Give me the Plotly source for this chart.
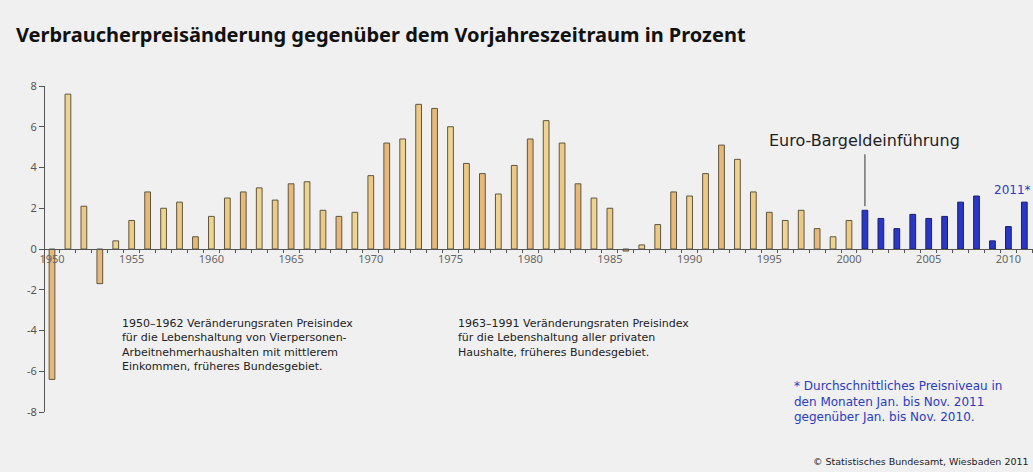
import plotly.graph_objects as go

years_west = list(range(1950, 2001))
values_west = [-6.4, 7.6, 2.1, -1.7, 0.4, 1.4, 2.8, 2.0, 2.3, 0.6,
               1.6, 2.5, 2.8, 3.0, 2.4, 3.2, 3.3, 1.9, 1.6, 1.8,
               3.6, 5.2, 5.4, 7.1, 6.9, 6.0, 4.2, 3.7, 2.7, 4.1,
               5.4, 6.3, 5.2, 3.2, 2.5, 2.0, -0.1, 0.2, 1.2, 2.8,
               2.6, 3.7, 5.1, 4.4, 2.8, 1.8, 1.4, 1.9, 1.0, 0.6,
               1.4]
years_euro = list(range(2001, 2012))
values_euro = [1.9, 1.5, 1.0, 1.7, 1.5, 1.6, 2.3, 2.6, 0.4, 1.1, 2.3]

tick_years = list(range(1950, 2011, 5))
y_ticks = [-8, -6, -4, -2, 0, 2, 4, 6, 8]
y_tick_labels = ["-8", "-6", "-4", "-2", "0", "2", "4", "6", "8"]

title_text = "Verbraucherpreisänderung gegenüber dem Vorjahreszeitraum in Prozent"
note_left = ("1950–1962 Veränderungsraten Preisindex<br>für die Lebenshaltung von Vierpersonen-<br>"
             "Arbeitnehmerhaushalten mit mittlerem<br>Einkommen, früheres Bundesgebiet.")
note_mid = ("1963–1991 Veränderungsraten Preisindex<br>für die Lebenshaltung aller privaten<br>"
            "Haushalte, früheres Bundesgebiet.")
note_blue = ("* Durchschnittliches Preisniveau in<br>den Monaten Jan. bis Nov. 2011<br>"
             "gegenüber Jan. bis Nov. 2010.")
source_text = "© Statistisches Bundesamt, Wiesbaden 2011"
euro_label = "Euro-Bargeldeinführung"

tan_palette = ["#e6b97a", "#efd391", "#ecca86"]
west_colors = [tan_palette[i % 3] for i in range(len(years_west))]

fig = go.Figure()
fig.add_trace(go.Bar(x=years_west, y=values_west, width=0.36,
                     marker=dict(color=west_colors, line=dict(color="#5e5640", width=1)),
                     showlegend=False))
fig.add_trace(go.Bar(x=years_euro, y=values_euro, width=0.36,
                     marker=dict(color="#2a36c6", line=dict(color="#18206e", width=1)),
                     showlegend=False))

px_per_year = 15.94
x0 = 1950 - 7 / px_per_year
x1 = x0 + 988 / px_per_year

note_font = "DejaVu Sans, Noto Sans, sans-serif"

fig.update_layout(
    width=1033, height=472,
    margin=dict(l=45, r=0, t=86, b=60),
    paper_bgcolor="#f0f0f0", plot_bgcolor="#f0f0f0",
    bargap=0.6,
    font=dict(family="Noto Sans, Open Sans, sans-serif", color="#333"),
    xaxis=dict(range=[x0, x1], anchor="free", position=0.5,
               showline=True, linecolor="#555", linewidth=1,
               showgrid=False, zeroline=False,
               tickmode="array", tickvals=tick_years, ticks="",
               tickfont=dict(size=11, color="#666"),
               minor=dict(tickmode="linear", tick0=1949.5, dtick=1,
                          ticks="outside", ticklen=3, tickcolor="#555", showgrid=False)),
    yaxis=dict(range=[-8, 8], tickvals=y_ticks, ticktext=y_tick_labels,
               showline=True, linecolor="#555", linewidth=1,
               ticks="outside", ticklen=5, tickcolor="#555",
               showgrid=False, zeroline=False,
               tickfont=dict(size=11, color="#555")),
)

annotations = [
    dict(text="<b>" + title_text + "</b>", xref="paper", yref="paper",
         x=-31/988, y=1 + (86 - 34) / 326, xanchor="left", yanchor="middle",
         showarrow=False, font=dict(size=20, color="#111")),
    dict(text=note_left, xref="paper", yref="paper", x=(120 - 45) / 988, y=(411.7 - 315) / 326,
         xanchor="left", yanchor="top", align="left", showarrow=False,
         font=dict(family=note_font, size=11, color="#222")),
    dict(text=note_mid, xref="paper", yref="paper", x=(456 - 45) / 988, y=(411.7 - 315) / 326,
         xanchor="left", yanchor="top", align="left", showarrow=False,
         font=dict(family=note_font, size=11, color="#222")),
    dict(text=note_blue, xref="paper", yref="paper", x=(792 - 45) / 988, y=(411.7 - 377) / 326,
         xanchor="left", yanchor="top", align="left", showarrow=False,
         font=dict(family=note_font, size=12, color="#2a3cc0")),
    dict(text=source_text, xref="paper", yref="paper", x=(1031 - 45) / 988, y=(411.7 - 461) / 326,
         xanchor="right", yanchor="middle", showarrow=False,
         font=dict(family=note_font, size=9.5, color="#222")),
    dict(text=euro_label, x=2001, y=4.7, xref="x", yref="y", xanchor="center", yanchor="bottom",
         yshift=1, showarrow=False, font=dict(family=note_font, size=16, color="#222")),
    dict(text="2011*", x=2011, y=values_euro[-1], xref="x", yref="y", xanchor="right",
         yanchor="bottom", yshift=3, xshift=9, showarrow=False,
         font=dict(family=note_font, size=12, color="#2a3cc0")),
]
fig.update_layout(annotations=annotations)
fig.add_shape(type="line", x0=2001, x1=2001, y0=values_euro[0] + 0.2, y1=4.65,
              xref="x", yref="y", line=dict(color="#333", width=1))

fig.write_html("out.html", config={"displayModeBar": False},
               post_script="document.body.style.margin='0px';document.body.style.overflow='hidden';")
